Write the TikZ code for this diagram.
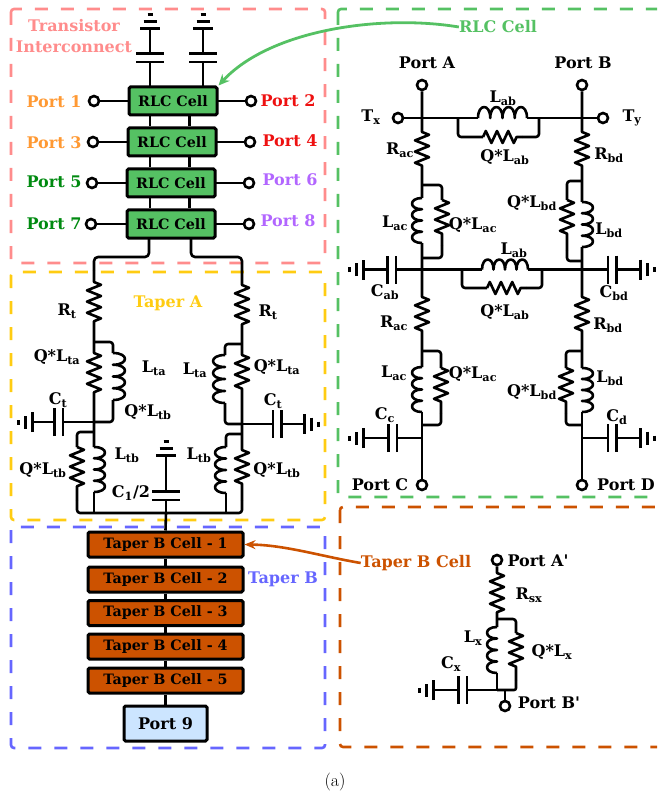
\documentclass[tikz,border=0pt]{standalone}
\usepackage{fontspec}
\newfontfamily\figfont{DejaVu Serif}
\usetikzlibrary{decorations.pathmorphing,arrows.meta}

\definecolor{cellgreen}{HTML}{55C163}
\definecolor{cellorange}{HTML}{CC5200}
\definecolor{portblue}{HTML}{CCE5FF}
\definecolor{framepink}{HTML}{FF8C8C}
\definecolor{frameyellow}{HTML}{FFCC12}
\definecolor{frameblue}{HTML}{6666FF}
\definecolor{portorange}{HTML}{FF9933}
\definecolor{portred}{HTML}{EE1111}
\definecolor{portgreen}{HTML}{008A10}
\definecolor{portpurple}{HTML}{B266FF}

\tikzset{
  wire/.style={line width=2.6pt,line join=round},
  res/.style={decoration={zigzag,amplitude=7pt,segment length=11.2pt}},
  resflat/.style={decoration={zigzag,amplitude=6pt,segment length=11.2pt}},
  frame/.style={line width=2.6pt,rounded corners=3pt,dash pattern=on 13pt off 13pt},
  port/.style={circle,draw,fill=white,line width=2.6pt,inner sep=0pt,minimum size=10pt},
  lbl/.style={font=\figfont\bfseries\fontsize{16}{19}\selectfont,inner sep=0pt},
  rlcbox/.style={lbl,draw,fill=cellgreen,line width=3pt,rounded corners=1.5pt,minimum width=88pt,minimum height=28pt,font=\figfont\bfseries\fontsize{14.3}{17}\selectfont},
  taperbox/.style={lbl,draw,fill=cellorange,line width=3pt,rounded corners=1.5pt,minimum width=155pt,minimum height=25pt,font=\figfont\bfseries\fontsize{14.3}{17}\selectfont},
}

% vertical coil: x, top, bottom, bulge
\newcommand{\coilv}[4]{%
  \pgfmathsetmacro{\stepy}{(#3-#2)/4}
  \draw[wire] (#1,#2) \foreach \k in {1,2,3,4} { .. controls ({#1+1.33*#4},{#2+(\k-1)*\stepy}) and ({#1+1.33*#4},{#2+\k*\stepy}) .. (#1,{#2+\k*\stepy}) };
}
% horizontal coil: y, left, right, bulge
\newcommand{\coilh}[4]{%
  \pgfmathsetmacro{\stepx}{(#3-#2)/4}
  \draw[wire] (#2,#1) \foreach \k in {1,2,3,4} { .. controls ({#2+(\k-1)*\stepx},{#1+1.33*#4}) and ({#2+\k*\stepx},{#1+1.33*#4}) .. ({#2+\k*\stepx},#1) };
}
% capacitor to ground: x, y, angle, first plate, first bar
\newcommand{\capgnd}[5]{%
  \begin{scope}[shift={(#1,#2)},rotate=#3]
    \draw[wire] (0,0) -- (#4,0) (#4,-14) -- (#4,14);
    \draw[wire] ({#4+8.5},-14) -- ({#4+8.5},14) ({#4+8.5},0) -- (#5,0);
    \draw[wire,line width=3pt] (#5,-10) -- (#5,10) ({#5+7},-6.5) -- ({#5+7},6.5) ({#5+14},-2.5) -- ({#5+14},2.5);
  \end{scope}
}

\begin{document}
\begin{tikzpicture}[x=1pt,y=-1pt]

\useasboundingbox (0,0) rectangle (657,794);
\clip (0,0) rectangle (657,794);

% frames
\draw[frame,framepink] (11,9) rectangle (325,263);
\draw[frame,frameyellow] (11,272) rectangle (325,520);
\draw[frame,frameblue] (11,527) rectangle (325,748);
\draw[frame,cellgreen] (338,9) rectangle (690,497);
\draw[frame,cellorange] (340,507) rectangle (690,747);

% frame titles
\node[lbl,framepink,align=center] (lblTransistor) at (74,36) {Transistor\\[2pt]Interconnect};
\node[lbl,frameyellow] (lblTaperA) at (168,303) {Taper A};
\node[lbl,frameblue] (lblTaperB) at (283,579) {Taper B};
\node[lbl,cellgreen] (lblRLC) at (498,27) {RLC Cell};
\node[lbl,cellorange] (lblTaperCell) at (416,563) {Taper B Cell};
\node[font=\fontsize{18}{21}\selectfont] (lblCaption) at (335,782) {(a)};

% RLC cells and their ports
\foreach \nm/\cell/\xa/\yy/\n/\tx/\ty/\col in {
  p1/{(173,101)}/94/101/1/54/102/portorange, p3/{(172,142)}/93/142/3/54/142.5/portorange,
  p5/{(171,183)}/92/183/5/54/182/portgreen, p7/{(171,224)}/91/224/7/54/224/portgreen,
  p2/{(173,101)}/251/101/2/288/101/portred, p4/{(172,142)}/250/142/4/290/141/portred,
  p6/{(171,183)}/249/183/6/290/180/portpurple, p8/{(171,224)}/249/224/8/288/221/portpurple}{
  \node[port] (\nm) at (\xa,\yy) {};
  \node[lbl,\col] (\nm lbl) at (\tx,\ty) {Port \n};
  \draw[wire] (\nm) -- \cell;
}
\node[rlcbox] (rlcA) at (173,101) {RLC Cell};
\node[rlcbox] (rlcB) at (172,142) {RLC Cell};
\node[rlcbox] (rlcC) at (171,183) {RLC Cell};
\node[rlcbox] (rlcD) at (171,224) {RLC Cell};

\coordinate (wireL) at (150,0);
\coordinate (wireR) at (189.5,0);
\foreach \a/\b in {rlcA/rlcB,rlcB/rlcC,rlcC/rlcD}{
  \draw[wire] (wireL |- \a.south) -- (wireL |- \b.north);
  \draw[wire] (wireR |- \a.south) -- (wireR |- \b.north);
}
\capgnd{150}{86}{90}{24}{57}
\capgnd{203}{86}{90}{24}{57}

% taper B chain
\node[taperbox] (tapA) at (165.5,544.5) {Taper B Cell - 1};
\node[taperbox] (tapB) at (165.5,579.5) {Taper B Cell - 2};
\node[taperbox] (tapC) at (165.5,613) {Taper B Cell - 3};
\node[taperbox] (tapD) at (165.5,646.5) {Taper B Cell - 4};
\node[taperbox] (tapE) at (165.5,680.5) {Taper B Cell - 5};
\node[lbl,draw,fill=portblue,line width=3pt,rounded corners=1.5pt,minimum width=83pt,minimum height=35pt] (port9) at (165.5,723.5) {Port 9};
\foreach \a/\b in {tapA/tapB,tapB/tapC,tapC/tapD,tapD/tapE,tapE/port9}{
  \draw[wire] (\a.south) -- (\b.north);
}

% taper A, left side
\draw[wire,rounded corners=4pt] (149,239) -- (149,257) -- (94,257) -- (94,270);
\draw[wire] (94,270) -- (94,282) decorate[res] {-- (94,323)} -- (94,353) decorate[res] {-- (94,393)} -- (94,447);
\draw[wire,rounded corners=3pt] (94,342) -- (113,342) -- (113,353);
\coilv{113}{353}{400}{12}
\draw[wire,rounded corners=3pt] (113,400) -- (113,422) -- (94,422);
\capgnd{94}{422}{180}{31}{62}
\draw[wire,rounded corners=3pt] (94,432) -- (77,432) -- (77,447);
\draw[wire] (77,447) decorate[res] {-- (77,487)} -- (77,500);
\coilv{94}{447}{492}{11}
\draw[wire] (94,492) -- (94,513);

% taper A, right side
\draw[wire,rounded corners=4pt] (191,239) -- (191,257) -- (242,257) -- (242,270);
\draw[wire] (242,270) -- (242,285) decorate[res] {-- (242,325)} -- (242,355) decorate[res] {-- (242,393)} -- (242,450) decorate[res] {-- (242,485)} -- (242,500);
\draw[wire,rounded corners=3pt] (242,344) -- (225,344) -- (225,355);
\coilv{225}{355}{403}{-12}
\draw[wire,rounded corners=3pt] (225,403) -- (225,424) -- (242,424);
\capgnd{242}{424}{0}{31}{62}
\draw[wire,rounded corners=3pt] (242,434) -- (226,434) -- (226,447);
\coilv{226}{447}{493}{-11}
\draw[wire] (226,493) -- (226,513);
\draw[wire,rounded corners=3pt] (77,500) -- (77,513) -- (242,513) -- (242,500);

% centre capacitor
\draw[wire] (166,513) -- (tapA.north);
\capgnd{166}{513}{90}{13}{58}

% RLC cell detail, top half
\node[port] (portA) at (422,85) {};
\node[port] (portB) at (582,85) {};
\node[port] (portTx) at (398,118) {};
\node[port] (portTy) at (603,118) {};
\draw[wire] (portTx) -- (478,118);
\coilh{118}{478}{527}{-11}
\draw[wire] (527,118) -- (portTy);
\draw[wire] (portA) -- (422,132) decorate[res] {-- (422,170)} -- (422,198);
\draw[wire] (portB) -- (582,132) decorate[res] {-- (582,170)} -- (582,202);
\draw[wire,rounded corners=3pt] (458,118) -- (458,137) -- (483,137);
\draw[wire] (483,137) decorate[resflat] {-- (522,137)};
\draw[wire,rounded corners=3pt] (522,137) -- (539,137) -- (539,118);

\coilv{422}{198}{243}{-10}
\draw[wire] (422,243) -- (422,297) decorate[res] {-- (422,335)} -- (422,367);
\draw[wire,rounded corners=3pt] (422,185) -- (442,185) -- (442,200);
\draw[wire] (442,200) decorate[res] {-- (442,237)} -- (442,245);
\draw[wire,rounded corners=3pt] (442,245) -- (442,258) -- (422,258);
\coilv{582}{202}{247}{11}
\draw[wire] (582,247) -- (582,297) decorate[res] {-- (582,335)} -- (582,368);
\draw[wire,rounded corners=3pt] (582,181) -- (567,181) -- (567,200);
\draw[wire] (567,200) decorate[res] {-- (567,239)} -- (567,250);
\draw[wire,rounded corners=3pt] (567,250) -- (567,261) -- (582,261);

% RLC cell detail, middle row
\capgnd{422}{269.5}{180}{26}{59}
\capgnd{582}{269.5}{0}{26}{58}
\draw[wire] (422,269.5) -- (482,269.5);
\coilh{269.5}{482}{528}{-10}
\draw[wire] (528,269.5) -- (582,269.5);
\draw[wire,rounded corners=3pt] (462,269.5) -- (462,288) -- (487,288);
\draw[wire] (487,288) decorate[resflat] {-- (526,288)};
\draw[wire,rounded corners=3pt] (526,288) -- (542,288) -- (542,269.5);

% RLC cell detail, bottom half
\node[port] (portC) at (422,485) {};
\node[port] (portD) at (582,485) {};
\coilv{422}{367}{412}{-10}
\draw[wire] (422,412) -- (portC);
\draw[wire,rounded corners=3pt] (422,351) -- (441,351) -- (441,368);
\draw[wire] (441,368) decorate[res] {-- (441,405)} -- (441,413);
\draw[wire,rounded corners=3pt] (441,413) -- (441,425) -- (422,425);
\capgnd{422}{438}{180}{25}{59}
\coilv{582}{368}{412}{11}
\draw[wire] (582,412) -- (portD);
\draw[wire,rounded corners=3pt] (582,351) -- (566,351) -- (566,368);
\draw[wire] (566,368) decorate[res] {-- (566,406)} -- (566,413);
\draw[wire,rounded corners=3pt] (566,413) -- (566,425) -- (582,425);
\capgnd{582}{438}{0}{26}{58}

% taper B cell detail
\node[port] (portAp) at (497,560) {};
\node[port] (portBp) at (505,706) {};
\draw[wire] (portAp) -- (497,573) decorate[res] {-- (497,613)} -- (497,627);
\coilv{497}{627}{673}{-10}
\draw[wire] (497,673) -- (497,690);
\draw[wire,rounded corners=3pt] (497,619) -- (516,619) -- (516,633);
\draw[wire] (516,633) decorate[res] {-- (516,670)} -- (516,680);
\draw[wire,rounded corners=2pt] (516,680) -- (516,690) -- (497,690);
\draw[wire] (505,690) -- (portBp);
\capgnd{497}{690}{180}{30}{64}

% arrows
\draw[cellgreen,line width=2.8pt,-{Stealth[length=11pt,width=10pt]}] (lblRLC.west) .. controls (380,14) and (270,30) .. (rlcA.north east);
\draw[cellorange,line width=2.6pt,-{Stealth[length=11pt,width=9pt]}] (lblTaperCell.west) .. controls (320,556) and (285,545) .. (tapA.east);

% component labels, taper A
\foreach \nm/\xx/\yy/\txt in {
  a1/67/311/{R\textsubscript{t}}, a2/268/312/{R\textsubscript{t}},
  a3/57/357/{Q*L\textsubscript{ta}}, a4/154/368/{L\textsubscript{ta}},
  a5/195/370/{L\textsubscript{ta}}, a6/277/367/{Q*L\textsubscript{ta}},
  a7/58/400/{C\textsubscript{t}}, a8/273/401/{C\textsubscript{t}},
  a9/148/412/{Q*L\textsubscript{tb}}, a10/127/455/{L\textsubscript{tb}},
  a11/43/470/{Q*L\textsubscript{tb}}, a12/199/455/{L\textsubscript{tb}},
  a13/277/470/{Q*L\textsubscript{tb}}, a14/131/493/{C\textsubscript{1}/2},
  b1/427/63/{Port A}, b2/583/63/{Port B},
  b3/371/117/{T\textsubscript{x}}, b4/632/118/{T\textsubscript{y}},
  b5/503/98/{L\textsubscript{ab}}, b6/505/157/{Q*L\textsubscript{ab}},
  b7/400/150/{R\textsubscript{ac}}, b8/609/155/{R\textsubscript{bd}},
  b9/395/223/{L\textsubscript{ac}}, b10/473/225/{Q*L\textsubscript{ac}},
  b11/532/203/{Q*L\textsubscript{bd}}, b12/609/230/{L\textsubscript{bd}},
  b13/514/250/{L\textsubscript{ab}}, b14/505/312/{Q*L\textsubscript{ab}},
  b15/385/292/{C\textsubscript{ab}}, b16/614/293/{C\textsubscript{bd}},
  b17/394/323/{R\textsubscript{ac}}, b18/608/325/{R\textsubscript{bd}},
  b19/394/373/{L\textsubscript{ac}}, b20/473/374/{Q*L\textsubscript{ac}},
  b21/532/392/{Q*L\textsubscript{bd}}, b22/610/378/{L\textsubscript{bd}},
  b23/385/415/{C\textsubscript{c}}, b24/617/417/{C\textsubscript{d}},
  b25/380/485/{Port C}, b26/626/485/{Port D},
  c1/538/561/{Port A'}, c2/549/703/{Port B'},
  c3/529/595/{R\textsubscript{sx}}, c4/473/638/{L\textsubscript{x}},
  c5/552/652/{Q*L\textsubscript{x}}, c6/451/664/{C\textsubscript{x}}}{
  \node[lbl] (\nm) at (\xx,\yy) {\txt};
}

\end{tikzpicture}
\end{document}
